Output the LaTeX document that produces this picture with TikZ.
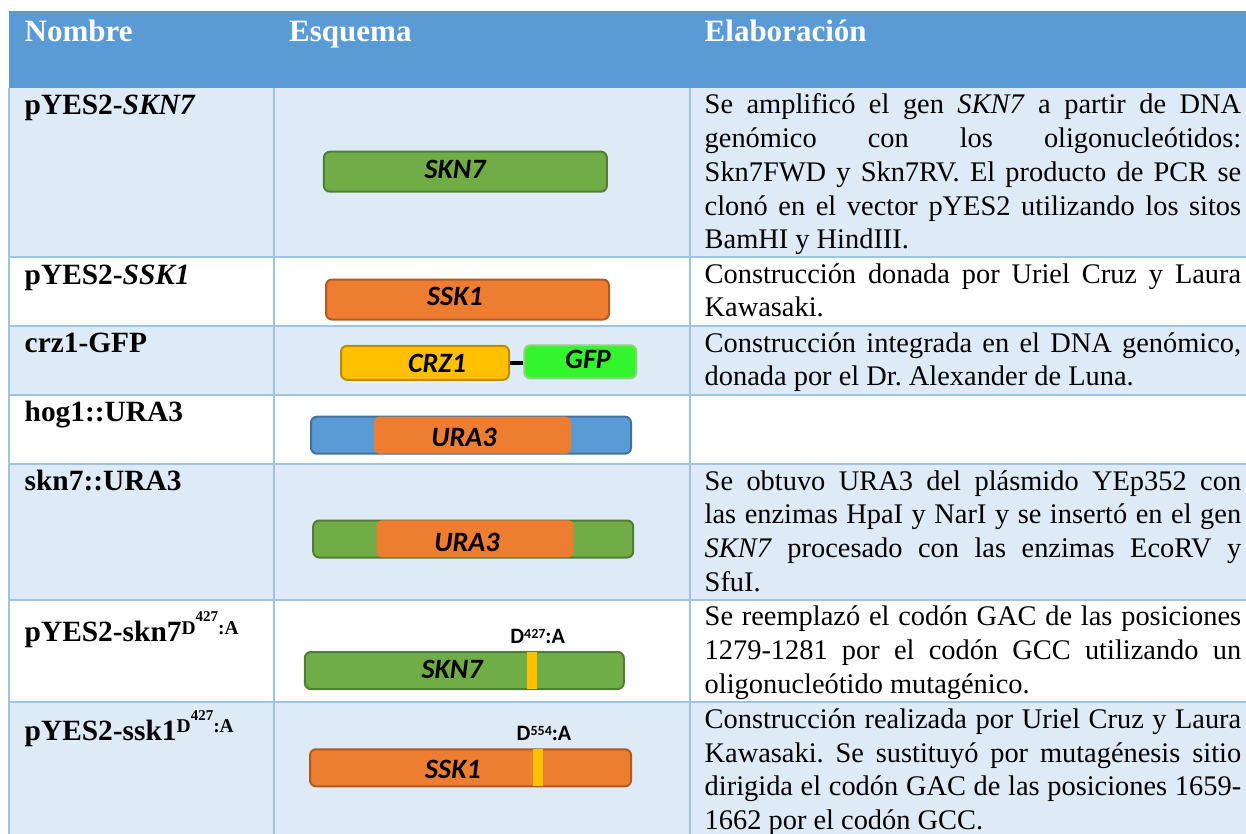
\documentclass[tikz,border=0pt]{standalone}
\usepackage{fontspec}
\setmainfont{Liberation Serif}
\newfontfamily\calibri{Carlito}
\usepackage{xcolor}
\usepackage{tikz}
\usetikzlibrary{positioning}
\tolerance=10000
\hbadness=10000
\frenchspacing
\definecolor{hdrblue}{HTML}{5B9BD5}
\definecolor{rowblue}{HTML}{DEEAF6}
\definecolor{gridblue}{HTML}{9DC3E6}
\definecolor{genegreen}{HTML}{70AD47}
\definecolor{genegreenD}{HTML}{507E32}
\definecolor{geneorange}{HTML}{ED7D31}
\definecolor{geneorangeD}{HTML}{AE5A21}
\definecolor{geneyellow}{HTML}{FFC000}
\definecolor{geneyellowD}{HTML}{BC8C00}
\definecolor{gfpgreen}{HTML}{33F52B}
\definecolor{gfpgreenD}{HTML}{8CD47E}
\definecolor{geneblueD}{HTML}{41719C}
\newcommand{\bodyfont}{\fontsize{28.4}{33.7}\selectfont}
\newcommand{\Dmut}{\raisebox{7.4pt}{\fontsize{19.5}{20}\selectfont D\raisebox{12.6pt}{\fontsize{15}{15}\selectfont 427}:A}}
\newcommand{\Dlab}[1]{D\raisebox{5pt}{\fontsize{14}{14}\selectfont #1}:A}
\tikzset{%
	hdr/.style       = {anchor=base west, inner sep=0, text=white, font=\fontsize{31}{36}\selectfont\bfseries}, % Header
	cname/.style     = {anchor=base west, inner sep=0, font=\fontsize{29.4}{34}\selectfont\bfseries}, % Name
	desc/.style      = {anchor=base west, inner sep=0, text width=536.5pt, align=justify, font=\bodyfont}, % Elaboracion
	gene/.style      = {draw, line width=2pt, rounded corners=6pt, inner sep=0}, % Gene box
	genetxt/.style   = {inner sep=0, font=\calibri\bfseries\itshape\fontsize{28}{28}\selectfont}, % Gene name
	mut/.style       = {anchor=base, inner sep=0, font=\calibri\bfseries\fontsize{22}{22}\selectfont}, % Mutation
	mutbar/.style    = {fill=geneyellow, inner sep=0, minimum width=10pt, minimum height=37pt}, % Mutation site
	tableline/.style = {draw=gridblue, line width=1.8pt}, % Table rule
}
\begin{document}
\begin{tikzpicture}[x=1pt, y=-1pt]
	\useasboundingbox (0,0) rectangle (1246,834);
	% rows
	\fill[hdrblue] (9,11) rectangle (1246,88);
	\fill[rowblue] (9,88) rectangle (1246,257);
	\fill[rowblue] (9,326) rectangle (1246,395);
	\fill[rowblue] (9,464) rectangle (1246,600);
	\fill[rowblue] (9,702) rectangle (1246,834);
	\draw[tableline] (9,88) -- (9,834);
	\draw[tableline] (274,88) -- (274,834);
	\draw[tableline] (690,88) -- (690,834);
	\draw[tableline] (9,257) -- (1246,257);
	\draw[tableline] (9,326) -- (1246,326);
	\draw[tableline] (9,395) -- (1246,395);
	\draw[tableline] (9,464) -- (1246,464);
	\draw[tableline] (9,600) -- (1246,600);
	\draw[tableline] (9,702) -- (1246,702);
	
	\node[hdr] (hnombre) at (24.5,42) {Nombre};
	\node[hdr] (hesquema) at (289,42) {Esquema};
	\node[hdr] (helab) at (704.5,42) {Elaboración};
	
	\node[cname] (n1) at (24.5,115) {pYES2-\textit{SKN7}};
	\node[cname] (n2) at (24.5,284) {pYES2-\textit{SSK1}};
	\node[cname] (n3) at (24.5,352) {crz1-GFP};
	\node[cname] (n4) at (24.5,421.5) {hog1::URA3};
	\node[cname] (n5) at (24.5,490) {skn7::URA3};
	\node[cname] (n6) at (24.5,641.7) {pYES2-skn7\Dmut};
	\node[cname] (n7) at (24.5,740) {pYES2-ssk1\Dmut};
	
	\node[desc] (d1) at (704.5,114) {Se amplificó el gen \textit{SKN7} a partir de DNA\linebreak genómico con los oligonucleótidos:\linebreak Skn7FWD y Skn7RV. El producto de PCR se\linebreak clonó en el vector pYES2 utilizando los sitos\linebreak BamHI y HindIII.};
	\node[desc] (d2) at (704.5,283) {Construcción donada por Uriel Cruz y Laura\linebreak Kawasaki.};
	\node[desc] (d3) at (704.5,352) {Construcción integrada en el DNA genómico,\linebreak donada por el Dr. Alexander de Luna.};
	\node[desc] (d5) at (704.5,490) {Se obtuvo URA3 del plásmido YEp352 con\linebreak las enzimas HpaI y NarI y se insertó en el gen\linebreak \textit{SKN7} procesado con las enzimas EcoRV y\linebreak SfuI.};
	\node[desc] (d6) at (704.5,625.7) {Se reemplazó el codón GAC de las posiciones\linebreak 1279-1281 por el codón GCC utilizando un\linebreak oligonucleótido mutagénico.};
	\node[desc] (d7) at (704.5,728.3) {Construcción realizada por Uriel Cruz y Laura\linebreak Kawasaki. Se sustituyó por mutagénesis sitio\linebreak dirigida el codón GAC de las posiciones 1659-\linebreak 1662 por el codón GCC.};
	
	% esquemas
	\node[gene, fill=genegreen, draw=genegreenD, minimum width=283pt, minimum height=40pt] (skn7) at (465.4,171.7) {};
	\node[genetxt] (skn7t) at (455,169.5) {SKN7};
	
	\node[gene, fill=geneorange, draw=geneorangeD, minimum width=283pt, minimum height=40pt] (ssk1) at (467.5,299.5) {};
	\node[genetxt] (ssk1t) at (455,296.5) {SSK1};
	
	\node[gene, fill=geneyellow, draw=geneyellowD, minimum width=168pt, minimum height=34pt] (crz1) at (425,362.8) {};
	\node[gene, fill=gfpgreen, draw=gfpgreenD, minimum width=112pt, minimum height=33pt] (gfp) at (580.3,361.8) {};
	\node[genetxt] (crz1t) at (437,363.3) {CRZ1};
	\node[genetxt] (gfpt) at (588,359) {GFP};
	\draw[line width=4pt] (crz1.east) -- (crz1.east -| gfp.west);
	
	\node[gene, fill=hdrblue, draw=geneblueD, minimum width=320pt, minimum height=37pt] (hog1) at (471,435.2) {};
	\node[fill=geneorange, rounded corners=5pt, inner sep=0, minimum width=197pt, minimum height=37pt] (ura3a) at (472.5,435.2) {};
	\node[genetxt] (ura3at) at (464,437.5) {URA3};
	
	\node[gene, fill=genegreen, draw=genegreenD, minimum width=320pt, minimum height=37pt] (skn7b) at (473.2,539) {};
	\node[fill=geneorange, rounded corners=5pt, inner sep=0, minimum width=197pt, minimum height=37pt] (ura3b) at (475,538.8) {};
	\node[genetxt] (ura3bt) at (467,542.5) {URA3};
	
	\node[gene, fill=genegreen, draw=genegreenD, minimum width=319pt, minimum height=37pt] (skn7m) at (464.3,670.5) {};
	\node[mutbar] (skn7bar) at (532,670.5) {};
	\node[genetxt] (skn7mt) at (452,669.5) {SKN7};
	\node[mut] (skn7d) at (537.6,643.3) {\Dlab{427}};
	
	\node[gene, fill=geneorange, draw=geneorangeD, minimum width=321pt, minimum height=37pt] (ssk1m) at (470.5,767.8) {};
	\node[mutbar] (ssk1bar) at (538.3,767.8) {};
	\node[genetxt] (ssk1mt) at (453,769.7) {SSK1};
	\node[mut] (ssk1d) at (544,740.7) {\Dlab{554}};
\end{tikzpicture}
\end{document}
